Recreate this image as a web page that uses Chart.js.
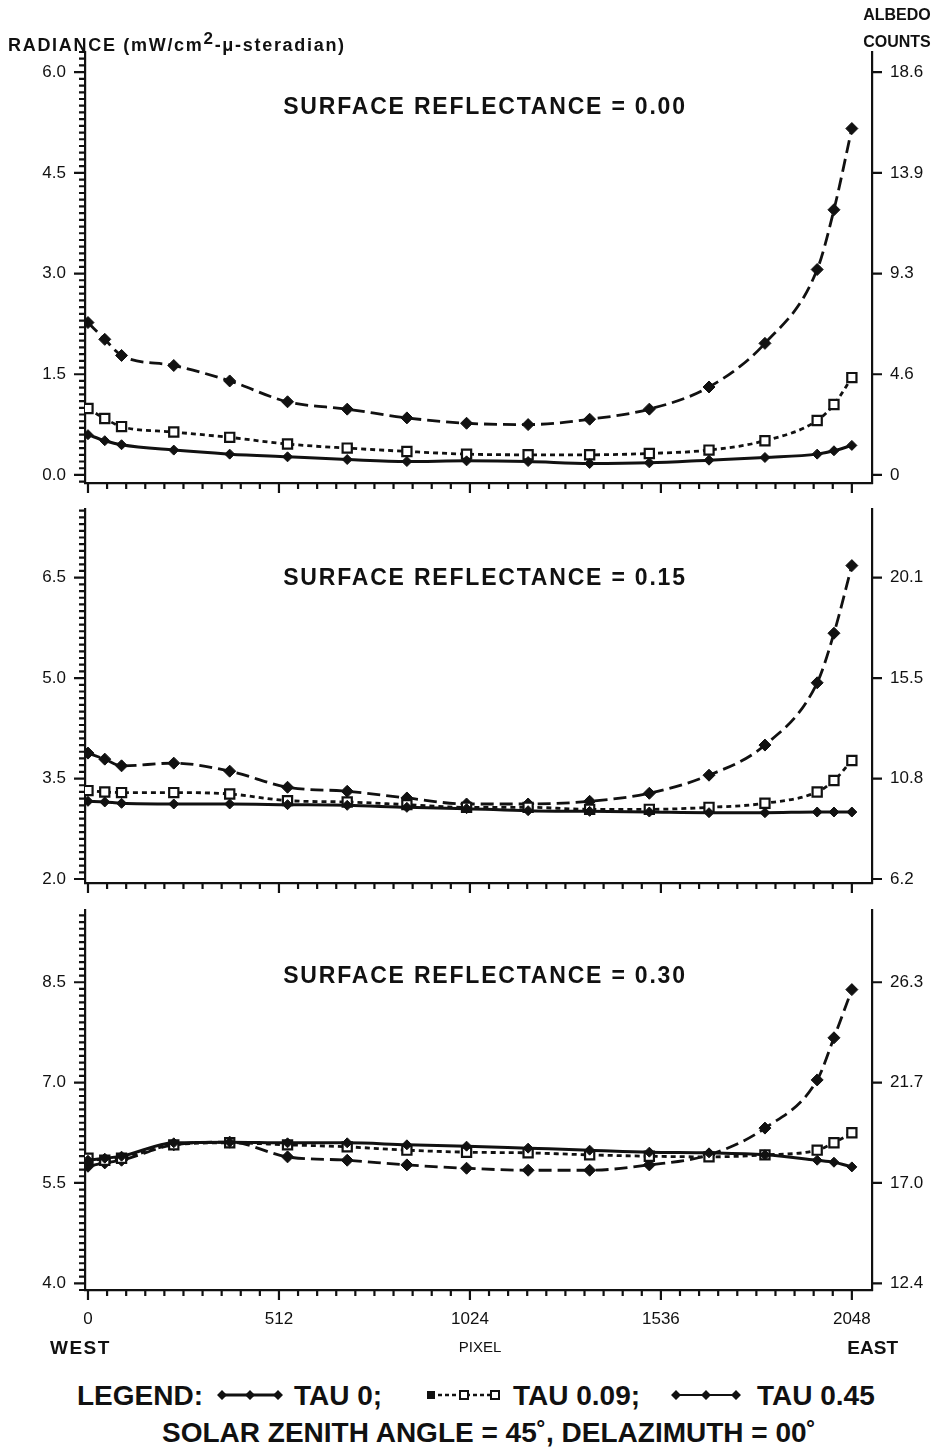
<!DOCTYPE html>
<html>
<head>
<meta charset="utf-8">
<script src="https://cdn.jsdelivr.net/npm/chart.js@4.4.1/dist/chart.umd.min.js"></script>
<style>
  body { margin: 0; background: #fff; }
  #page { position: relative; width: 934px; height: 1450px; font-family: "Liberation Sans", Arial, sans-serif; color: #111; }
  canvas { position: absolute; left: 0; }
  .txt { position: absolute; white-space: nowrap; font-weight: bold; line-height: 1; }
  .title { font-size: 23px; letter-spacing: 1.8px; left: 0; width: 970px; text-align: center; }
  .big { font-size: 28px; }
  .sample { position: absolute; }
</style>
</head>
<body>
<div id="page">
  <canvas id="panel1" width="934" height="500" style="top:0"></canvas>
  <canvas id="panel2" width="934" height="400" style="top:500px"></canvas>
  <canvas id="panel3" width="934" height="440" style="top:900px"></canvas>

  <div class="txt" style="left:8px;top:36px;font-size:18px;letter-spacing:1.7px">RADIANCE (mW/cm<sup style="font-size:17px;vertical-align:7px;line-height:0">2</sup>-μ-steradian)</div>
  <div class="txt" style="left:852px;top:7px;width:90px;text-align:center;font-size:16px">ALBEDO</div>
  <div class="txt" style="left:852px;top:34px;width:90px;text-align:center;font-size:16px">COUNTS</div>

  <div class="txt title" style="top:95px">SURFACE REFLECTANCE = 0.00</div>
  <div class="txt title" style="top:566px">SURFACE REFLECTANCE = 0.15</div>
  <div class="txt title" style="top:964px">SURFACE REFLECTANCE = 0.30</div>

  <div class="txt" style="left:50px;top:1338px;font-size:19px;letter-spacing:1.5px">WEST</div>
  <div class="txt" style="left:440px;top:1339px;width:80px;text-align:center;font-size:15px;font-weight:normal">PIXEL</div>
  <div class="txt" style="left:798px;top:1338px;width:100px;text-align:right;font-size:19px">EAST</div>

  <div class="txt big" style="left:77px;top:1382px">LEGEND:</div>
  <svg class="sample" style="left:217px;top:1387px" width="66" height="16">
    <line x1="5" y1="8" x2="61" y2="8" stroke="#111" stroke-width="3"/>
    <path d="M5 3 L10 8 L5 13 L0 8Z M33 3 L38 8 L33 13 L28 8Z M61 3 L66 8 L61 13 L56 8Z" fill="#111"/>
  </svg>
  <div class="txt big" style="left:294px;top:1382px">TAU 0;</div>
  <svg class="sample" style="left:425px;top:1387px" width="76" height="16">
    <line x1="6" y1="8" x2="70" y2="8" stroke="#111" stroke-width="2.5" stroke-dasharray="4 3"/>
    <rect x="2" y="4" width="8" height="8" fill="#111"/>
    <rect x="35" y="4" width="8" height="8" fill="#fff" stroke="#111" stroke-width="2"/>
    <rect x="66" y="4" width="8" height="8" fill="#fff" stroke="#111" stroke-width="2"/>
  </svg>
  <div class="txt big" style="left:513px;top:1382px">TAU 0.09;</div>
  <svg class="sample" style="left:671px;top:1387px" width="70" height="16">
    <line x1="5" y1="8" x2="65" y2="8" stroke="#111" stroke-width="2"/>
    <path d="M5 3 L10 8 L5 13 L0 8Z M35 3 L40 8 L35 13 L30 8Z M65 3 L70 8 L65 13 L60 8Z" fill="#111"/>
  </svg>
  <div class="txt big" style="left:757px;top:1382px">TAU 0.45</div>
  <div class="txt big" style="left:0;top:1419px;width:978px;text-align:center">SOLAR ZENITH ANGLE = 45˚, DELAZIMUTH = 00˚</div>
</div>

<script>
// Pixel positions of the samples across the scan line
const pixels = [0, 45, 90, 230, 380, 535, 695, 855, 1015, 1180, 1345, 1505, 1665, 1815, 1955, 2000, 2048];
const pixelTicks = [0, 512, 1024, 1536, 2048];

// Surface reflectance 0.00
const tau0R00 = [0.60, 0.51, 0.45, 0.37, 0.31, 0.27, 0.23, 0.20, 0.21, 0.20, 0.17, 0.18, 0.22, 0.26, 0.31, 0.36, 0.44];
const tau009R00 = [0.99, 0.84, 0.72, 0.64, 0.56, 0.46, 0.40, 0.35, 0.31, 0.30, 0.30, 0.32, 0.37, 0.51, 0.81, 1.05, 1.45];
const tau045R00 = [2.27, 2.02, 1.78, 1.63, 1.40, 1.09, 0.98, 0.85, 0.77, 0.75, 0.83, 0.98, 1.31, 1.96, 3.06, 3.95, 5.16];
const radianceTicksR00 = [0, 1.5, 3.0, 4.5, 6.0];
const albedoTicksR00 = ['0', '4.6', '9.3', '13.9', '18.6'];

// Surface reflectance 0.15
const tau0R15 = [3.16, 3.15, 3.13, 3.12, 3.12, 3.11, 3.10, 3.07, 3.05, 3.02, 3.01, 3.00, 2.99, 2.99, 3.00, 3.00, 3.00];
const tau009R15 = [3.32, 3.30, 3.29, 3.29, 3.27, 3.17, 3.15, 3.11, 3.07, 3.07, 3.04, 3.04, 3.07, 3.13, 3.30, 3.47, 3.77];
const tau045R15 = [3.88, 3.79, 3.69, 3.73, 3.61, 3.37, 3.31, 3.21, 3.12, 3.12, 3.16, 3.28, 3.55, 4.00, 4.93, 5.67, 6.68];
const radianceTicksR15 = [2.0, 3.5, 5.0, 6.5];
const albedoTicksR15 = ['6.2', '10.8', '15.5', '20.1'];

// Surface reflectance 0.30
const tau0R30 = [5.84, 5.87, 5.90, 6.10, 6.11, 6.10, 6.10, 6.07, 6.05, 6.02, 5.99, 5.96, 5.95, 5.92, 5.84, 5.81, 5.74];
const tau009R30 = [5.87, 5.84, 5.87, 6.07, 6.10, 6.07, 6.04, 5.99, 5.96, 5.95, 5.92, 5.90, 5.89, 5.92, 5.99, 6.10, 6.25];
const tau045R30 = [5.75, 5.80, 5.84, 6.07, 6.11, 5.89, 5.84, 5.77, 5.72, 5.69, 5.69, 5.77, 5.92, 6.32, 7.04, 7.67, 8.39];
const radianceTicksR30 = [4.0, 5.5, 7.0, 8.5];
const albedoTicksR30 = ['12.4', '17.0', '21.7', '26.3'];

const INK = '#111';
const FONT = 'Liberation Sans, Arial, sans-serif';

function isOneOf(list, v) {
    return list.some(m => Math.abs(m - v) < 1e-6);
}

// Minor/major tick marks drawn off the chart's scales
const tickMarks = {
    id: 'tickMarks',
    afterDraw(chart) {
        const { ctx } = chart;
        const { x, y, y2 } = chart.scales;
        ctx.save();
        ctx.strokeStyle = INK;
        ctx.lineWidth = 2.2;
        ctx.beginPath();
        x.ticks.forEach(t => {
            const px = x.getPixelForValue(t.value);
            const len = isOneOf(pixelTicks, t.value) ? 10 : 6;
            ctx.moveTo(px, x.top);
            ctx.lineTo(px, x.top + len);
        });
        y.ticks.forEach(t => {
            const py = y.getPixelForValue(t.value);
            const len = t.label ? 11 : 6;
            ctx.moveTo(y.right, py);
            ctx.lineTo(y.right - len, py);
        });
        y2.ticks.forEach(t => {
            const py = y2.getPixelForValue(t.value);
            ctx.moveTo(y2.left, py);
            ctx.lineTo(y2.left + 10, py);
        });
        ctx.stroke();
        ctx.restore();
    }
};

function series(values) {
    return values.map((v, i) => ({ x: pixels[i], y: v }));
}

// Drop the label overhang padding so the plot area sits exactly where the axes say
function noPadding(scale) {
    scale.paddingTop = 0;
    scale.paddingBottom = 0;
    scale.paddingLeft = 0;
    scale.paddingRight = 0;
}

function createPanel(canvasId, opts) {
    const ctx = document.getElementById(canvasId);
    const axisFont = { family: FONT, size: 17 };
    const border = { display: true, color: INK, width: 2.2 };

    return new Chart(ctx, {
        type: 'line',
        data: {
            datasets: [
                {
                    label: 'TAU 0',
                    data: series(opts.tau0),
                    borderColor: INK,
                    borderWidth: 3,
                    pointStyle: 'rectRot',
                    pointRadius: 5,
                    pointBackgroundColor: INK,
                    pointBorderColor: INK,
                    pointBorderWidth: 1
                },
                {
                    label: 'TAU 0.09',
                    data: series(opts.tau009),
                    borderColor: INK,
                    borderWidth: 2.8,
                    borderDash: [5, 4],
                    pointStyle: 'rect',
                    pointRadius: 6.5,
                    pointBackgroundColor: '#fff',
                    pointBorderColor: INK,
                    pointBorderWidth: 2.2
                },
                {
                    label: 'TAU 0.45',
                    data: series(opts.tau045),
                    borderColor: INK,
                    borderWidth: 2.8,
                    borderDash: [13, 6],
                    pointStyle: 'rectRot',
                    pointRadius: 6,
                    pointBackgroundColor: INK,
                    pointBorderColor: INK,
                    pointBorderWidth: 1
                }
            ]
        },
        options: {
            responsive: false,
            animation: false,
            events: [],
            cubicInterpolationMode: 'monotone',
            layout: { padding: { top: opts.padTop, left: 0, right: 0, bottom: 0 } },
            plugins: { legend: { display: false }, tooltip: { enabled: false } },
            scales: {
                x: {
                    type: 'linear',
                    min: -8,
                    max: 2102,
                    border: border,
                    grid: { display: false },
                    afterFit(scale) { scale.height = opts.xHeight; noPadding(scale); },
                    afterBuildTicks(scale) {
                        const ticks = [];
                        for (let k = 0; k <= 40; k++) ticks.push({ value: k * 51.2 });
                        scale.ticks = ticks;
                    },
                    ticks: {
                        autoSkip: false,
                        maxRotation: 0,
                        padding: 11,
                        color: INK,
                        font: axisFont,
                        callback: v => (opts.showPixels && isOneOf(pixelTicks, v)) ? String(Math.round(v)) : ''
                    }
                },
                y: {
                    position: 'left',
                    min: opts.min,
                    max: opts.max,
                    border: border,
                    grid: { display: false },
                    afterFit(scale) { scale.width = 85; noPadding(scale); },
                    afterBuildTicks(scale) {
                        const ticks = [];
                        const lo = Math.ceil(scale.min * 10 - 1e-9);
                        const hi = Math.floor(scale.max * 10 + 1e-9);
                        for (let k = lo; k <= hi; k++) ticks.push({ value: k / 10 });
                        scale.ticks = ticks;
                    },
                    ticks: {
                        autoSkip: false,
                        padding: 11,
                        color: INK,
                        font: axisFont,
                        callback: v => isOneOf(opts.radianceTicks, v) ? v.toFixed(1) : ''
                    }
                },
                y2: {
                    position: 'right',
                    min: opts.min,
                    max: opts.max,
                    border: border,
                    grid: { display: false },
                    afterFit(scale) { scale.width = 62; noPadding(scale); },
                    afterBuildTicks(scale) {
                        scale.ticks = opts.radianceTicks.map(v => ({ value: v }));
                    },
                    ticks: {
                        autoSkip: false,
                        padding: 10,
                        color: INK,
                        font: axisFont,
                        callback: (v, i) => opts.albedoTicks[i]
                    }
                }
            }
        },
        plugins: [tickMarks]
    });
}

createPanel('panel1', {
    tau0: tau0R00, tau009: tau009R00, tau045: tau045R00,
    radianceTicks: radianceTicksR00, albedoTicks: albedoTicksR00,
    min: -0.12, max: 6.3, padTop: 52, xHeight: 17, showPixels: false
});
createPanel('panel2', {
    tau0: tau0R15, tau009: tau009R15, tau045: tau045R15,
    radianceTicks: radianceTicksR15, albedoTicks: albedoTicksR15,
    min: 1.94, max: 7.53, padTop: 7, xHeight: 17, showPixels: false
});
createPanel('panel3', {
    tau0: tau0R30, tau009: tau009R30, tau045: tau045R30,
    radianceTicks: radianceTicksR30, albedoTicks: albedoTicksR30,
    min: 3.9, max: 9.58, padTop: 10, xHeight: 50, showPixels: true
});
</script>
</body>
</html>
